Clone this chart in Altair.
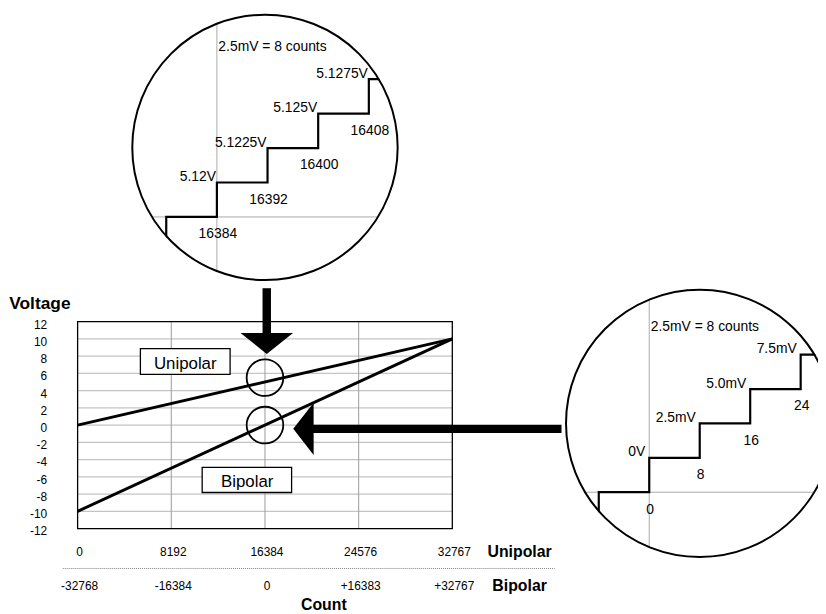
import altair as alt
import pandas as pd

# ---------------- data ----------------
count_range = [0, 32767]
unipolar_volts = [0, 10]
bipolar_volts = [-10, 10]

y_tick_values = [12, 10, 8, 6, 4, 2, 0, -2, -4, -6, -8, -10, -12]
grid_volts = [10, 8, 6, 4, 2, 0, -2, -4, -6, -8, -10]
grid_counts = [8192, 16384, 24576]
x_tick_counts = [0, 8192, 16384, 24576, 32767]
unipolar_tick_labels = ["0", "8192", "16384", "24576", "32767"]
bipolar_tick_labels = ["-32768", "-16384", "0", "+16383", "+32767"]

# zoom around 16384 counts (unipolar, 5.12 V)
top_step_counts = [16376, 16384, 16392, 16400, 16408]
top_step_volts = [5.1175, 5.12, 5.1225, 5.125, 5.1275]
top_count_labels = ["16384", "16392", "16400", "16408"]
top_volt_labels = ["5.12V", "5.1225V", "5.125V", "5.1275V"]

# zoom around 0 counts (bipolar, 0 V)
right_step_counts = [-8, 0, 8, 16, 24]
right_step_mv = [-2.5, 0.0, 2.5, 5.0, 7.5]
right_count_labels = ["0", "8", "16", "24"]
right_volt_labels = ["0V", "2.5mV", "5.0mV", "7.5mV"]

note_text = "2.5mV = 8 counts"

# ---------------- layout ----------------
W, H = 818, 606
FONT = "Liberation Sans, Arial, sans-serif"


def S(domain, rng):
    return alt.Scale(domain=domain, range=rng, nice=False, zero=False)


MX = S([0, 32767], [70.3, 448.7])
MY = S([-12, 12], [522.7, 313.7])
TX = S([16376, 16408], [159.8, 364.4])
TY = S([5.1175, 5.1275], [208.0, 68.9])
RX = S([-8, 24], [596.6, 800.5])
RY = S([-2.5, 7.5], [486.0, 347.1])


def XY(sx, sy, xf="x", yf="y"):
    return dict(x=alt.X(f"{xf}:Q", scale=sx, axis=None),
                y=alt.Y(f"{yf}:Q", scale=sy, axis=None))


def txt(**kw):
    base = dict(font=FONT, color="black")
    base.update(kw)
    return base


layers = []

# ---- main chart ----
layers.append(alt.Chart(pd.DataFrame({"y": grid_volts, "x": 0, "x2": 32767}))
              .mark_rule(color="#c4c4c4", strokeWidth=1.2)
              .encode(**XY(MX, MY), x2="x2:Q"))
layers.append(alt.Chart(pd.DataFrame({"x": grid_counts, "y": -12, "y2": 12}))
              .mark_rule(color="#a4a4a4", strokeWidth=1.1)
              .encode(**XY(MX, MY), y2="y2:Q"))
layers.append(alt.Chart(pd.DataFrame({"x": [0], "x2": [32767], "y": [-12], "y2": [12]}))
              .mark_rect(fillOpacity=0, stroke="black", strokeWidth=1.3)
              .encode(**XY(MX, MY), x2="x2:Q", y2="y2:Q"))

lines_df = pd.DataFrame({
    "series": ["Unipolar"] * 2 + ["Bipolar"] * 2,
    "count": count_range + count_range,
    "volt": unipolar_volts + bipolar_volts,
})
layers.append(alt.Chart(lines_df).mark_line(color="black", strokeWidth=3)
              .encode(**XY(MX, MY, "count", "volt"), detail="series:N"))

# series label boxes
box_df = pd.DataFrame({"label": ["Unipolar", "Bipolar"],
                       "x": [5490, 10893], "x2": [13335, 18713],
                       "y": [8.865, -4.91], "y2": [5.879, -7.82],
                       "tx": [9412, 14830], "ty": [6.53, -7.21]})
layers.append(alt.Chart(box_df).mark_rect(fill="white", stroke="black", strokeWidth=1.3)
              .encode(**XY(MX, MY), x2="x2:Q", y2="y2:Q"))
layers.append(alt.Chart(box_df).mark_text(**txt(fontSize=17, align="center", baseline="alphabetic"))
              .encode(**XY(MX, MY, "tx", "ty"), text="label:N"))

# y tick labels
layers.append(alt.Chart(pd.DataFrame({"y": y_tick_values, "label": [str(v) for v in y_tick_values], "x": -2667}))
              .mark_text(**txt(fontSize=12, align="right", baseline="middle", dy=3))
              .encode(**XY(MX, MY), text="label:N"))

# x tick label rows
layers.append(alt.Chart(pd.DataFrame({"x": x_tick_counts, "label": unipolar_tick_labels, "y": -14.71}))
              .mark_text(**txt(fontSize=12, align="center", baseline="middle", dx=2))
              .encode(**XY(MX, MY), text="label:N"))
layers.append(alt.Chart(pd.DataFrame({"x": x_tick_counts, "label": bipolar_tick_labels, "y": -18.61}))
              .mark_text(**txt(fontSize=12, align="center", baseline="middle", dx=2))
              .encode(**XY(MX, MY), text="label:N"))
layers.append(alt.Chart(pd.DataFrame({"x": [38650, 38650], "label": ["Unipolar", "Bipolar"], "y": [-14.71, -18.61]}))
              .mark_text(**txt(fontSize=16, fontWeight="bold", align="center", baseline="middle"))
              .encode(**XY(MX, MY), text="label:N"))
layers.append(alt.Chart(pd.DataFrame({"x": [-1299], "x2": [41712], "y": [-16.63]}))
              .mark_rule(color="#808080", strokeWidth=1, strokeDash=[1, 1])
              .encode(**XY(MX, MY), x2="x2:Q"))

# axis titles
layers.append(alt.Chart(pd.DataFrame({"x": [-5975], "y": [13.46], "label": ["Voltage"]}))
              .mark_text(**txt(fontSize=17.5, fontWeight="bold", align="left", baseline="alphabetic"))
              .encode(**XY(MX, MY), text="label:N"))
layers.append(alt.Chart(pd.DataFrame({"x": [21536], "y": [-21.42], "label": ["Count"]}))
              .mark_text(**txt(fontSize=16, fontWeight="bold", align="center", baseline="alphabetic"))
              .encode(**XY(MX, MY), text="label:N"))


# ---- zoom insets ----
def inset(sx, sy, counts, volts, start_v, end_c, grid_v_rng, grid_h_rng,
          count_labels, volt_labels, volt_dx, note_y):
    out = []
    out.append(alt.Chart(pd.DataFrame({"x": [counts[1]], "y": [grid_v_rng[0]], "y2": [grid_v_rng[1]]}))
               .mark_rule(color="#aaaaaa", strokeWidth=1)
               .encode(**XY(sx, sy), y2="y2:Q"))
    out.append(alt.Chart(pd.DataFrame({"y": [volts[0]], "x": [grid_h_rng[0]], "x2": [grid_h_rng[1]]}))
               .mark_rule(color="#aaaaaa", strokeWidth=1)
               .encode(**XY(sx, sy), x2="x2:Q"))
    xs = [counts[0]] + counts + [end_c]
    ys = [start_v] + volts + [volts[-1]]
    out.append(alt.Chart(pd.DataFrame({"i": range(len(xs)), "x": xs, "y": ys}))
               .mark_line(interpolate="step-after", color="black", strokeWidth=2.2)
               .encode(**XY(sx, sy), order="i:Q"))
    out.append(alt.Chart(pd.DataFrame({"x": counts[1:], "y": volts[:-1], "label": count_labels}))
               .mark_text(**txt(fontSize=14, align="center", baseline="middle", dy=17.5, dx=1))
               .encode(**XY(sx, sy), text="label:N"))
    out.append(alt.Chart(pd.DataFrame({"x": counts[1:], "y": volts[1:], "label": volt_labels}))
               .mark_text(**txt(fontSize=14, align="right", baseline="alphabetic", dx=volt_dx, dy=-1.5))
               .encode(**XY(sx, sy), text="label:N"))
    out.append(alt.Chart(pd.DataFrame({"x": [counts[1]], "y": [note_y], "label": [note_text]}))
               .mark_text(**txt(fontSize=14, align="left", baseline="alphabetic", dx=1.5))
               .encode(**XY(sx, sy), text="label:N"))
    return out


layers += inset(TX, TY, top_step_counts, top_step_volts, 5.1158, 16411,
                [5.113, 5.132], [16372, 16411.5],
                top_count_labels, top_volt_labels, -1, 5.12956)
layers += inset(RX, RY, right_step_counts, right_step_mv, -4.0, 28,
                [-7.5, 12.5], [-12, 30],
                right_count_labels, right_volt_labels, -4, 9.24)

# white masks outside the magnifier circles, then the circle outlines
for cx, cy, d in [(16384, 32.2, 268), (54400, 0.2, 270)]:
    pt = pd.DataFrame({"x": [cx], "y": [cy]})
    layers.append(alt.Chart(pt).mark_point(shape="circle", size=(d + 26) ** 2, filled=False,
                                           color="white", strokeWidth=24, opacity=1)
                  .encode(**XY(MX, MY)))
    layers.append(alt.Chart(pt).mark_point(shape="circle", size=d ** 2, filled=False,
                                           color="black", strokeWidth=2, opacity=1)
                  .encode(**XY(MX, MY)))

# small circles on the lines
layers.append(alt.Chart(pd.DataFrame({"x": [16384, 16384], "y": [5.5, 0]}))
              .mark_point(shape="circle", size=37 ** 2, filled=False, color="black",
                          strokeWidth=1.8, opacity=1)
              .encode(**XY(MX, MY)))

# arrows
layers.append(alt.Chart(pd.DataFrame({"x": [16540], "y": [15.87], "y2": [10.2]}))
              .mark_rule(color="black", strokeWidth=8.5)
              .encode(**XY(MX, MY), y2="y2:Q"))
layers.append(alt.Chart(pd.DataFrame({"x": [16540], "y": [9.47]}))
              .mark_point(shape="M-1,-0.4L1,-0.4L0,0.4Z", size=2809, filled=True,
                          color="black", opacity=1, strokeWidth=0)
              .encode(**XY(MX, MY)))
layers.append(alt.Chart(pd.DataFrame({"x": [20300], "x2": [42316], "y": [-0.44]}))
              .mark_rule(color="black", strokeWidth=8.5)
              .encode(**XY(MX, MY), x2="x2:Q"))
layers.append(alt.Chart(pd.DataFrame({"x": [19748], "y": [-0.44]}))
              .mark_point(shape="M0.39,-1L0.39,1L-0.39,0Z", size=2777, filled=True,
                          color="black", opacity=1, strokeWidth=0)
              .encode(**XY(MX, MY)))

chart = (alt.layer(*layers)
         .resolve_scale(x="independent", y="independent")
         .properties(width=W, height=H, padding=0,
                     autosize=alt.AutoSizeParams(type="none"),
                     background="white")
         .configure_view(strokeWidth=0))

chart.save("out.html", embed_options={"renderer": "svg", "actions": False})
